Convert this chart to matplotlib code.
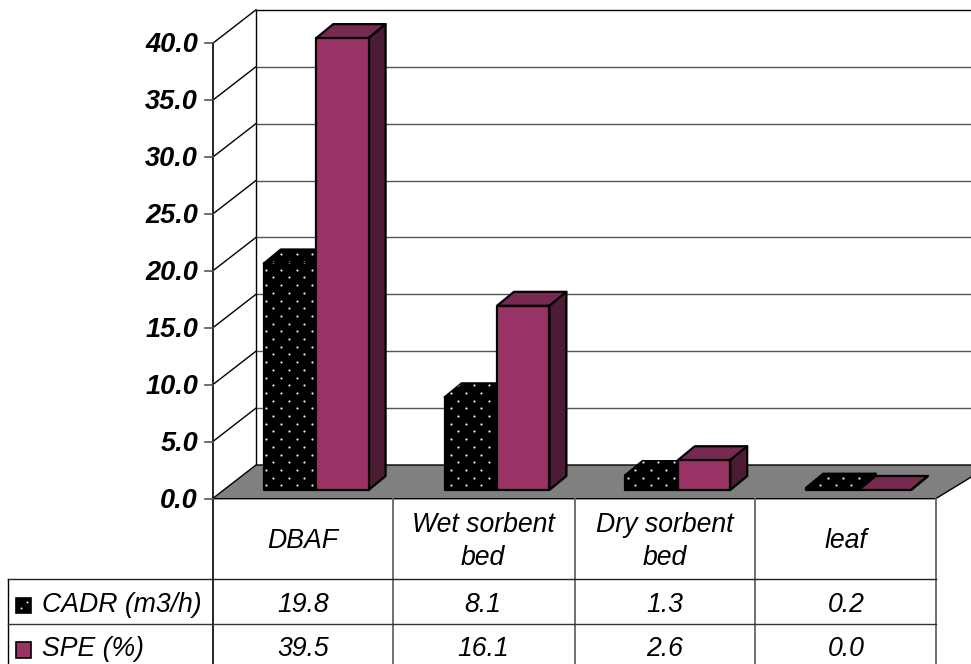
import numpy as np
import matplotlib
matplotlib.use("Agg")
import matplotlib.pyplot as plt
from matplotlib.patches import Polygon

categories = ["DBAF", "Wet sorbent\nbed", "Dry sorbent\nbed", "leaf"]
series_names = ["CADR (m3/h)", "SPE (%)"]
cadr = [19.8, 8.1, 1.3, 0.2]
spe = [39.5, 16.1, 2.6, 0.0]
tick_values = [0, 5, 10, 15, 20, 25, 30, 35, 40]

FONT = "Liberation Sans"
W, H = 971, 664
fig = plt.figure(figsize=(W / 100, H / 100), dpi=100)
ax = fig.add_axes([0, 0, 1, 1])
ax.set_xlim(0, W)
ax.set_ylim(H, 0)
ax.axis("off")

# chart geometry
FX, FY0, UNIT = 212.5, 498.7, 11.38      # front axis
DX, DY = 43.5, 33.7                      # wall depth
FR = 935.7                               # front right of floor
BAR_Y0, BAR_UNIT = 490.0, 11.44
BAR_X0, GROUP_STEP, BAR_W = 263.8, 180.8, 52.4
BDX, BDY = 17.0, 14.0
C_FRONT, C_TOP, C_SIDE = "#993366", "#762A52", "#4C1B34"
GRID = "#555555"


def fy(v):
    return FY0 - v * UNIT


# walls and gridlines
ax.add_patch(Polygon([(FX, fy(0)), (FX + DX, fy(0) - DY), (W + 20, fy(0) - DY), (FR, fy(0))],
                     closed=True, fc="#808080", ec="black", lw=1.0, zorder=2))
for v in tick_values[1:]:
    top = v == tick_values[-1]
    ax.plot([FX + DX, W], [fy(v) - DY] * 2, color="black" if top else GRID,
            lw=1.0, zorder=1, solid_capstyle="butt")
    ax.plot([FX, FX + DX], [fy(v), fy(v) - DY], color="black", lw=1.0, zorder=1)
ax.plot([FX + DX] * 2, [fy(40) - DY, fy(0) - DY], color="black", lw=1.0, zorder=1)
ax.plot([FX] * 2, [fy(40), H], color="black", lw=1.2, zorder=3)
for v in tick_values:
    ax.plot([FX - 8, FX], [fy(v)] * 2, color=GRID, lw=1.2, zorder=3)
    ax.text(FX - 14.5, fy(v) + 2.0, f"{v:.1f}", ha="right", va="center", fontsize=19.5,
            family=FONT, weight="bold", style="italic", color="black", zorder=5)

# dot texture of the first series
rows = 485.3 - 7.7 * np.arange(0, 62)
dots = [(265.7 + (7.7 if j % 2 else 0) + 15.4 * k, y)
        for j, y in enumerate(rows) for k in range(0, 44)]
dots = np.array(dots)


def bar(x0, value, front, top, side, dotted, z):
    y0 = BAR_Y0
    y1 = BAR_Y0 - value * BAR_UNIT
    x1 = x0 + BAR_W
    faces = [
        ([(x0, y1), (x1, y1), (x1 + BDX, y1 - BDY), (x0 + BDX, y1 - BDY)], top),
        ([(x1, y0), (x1 + BDX, y0 - BDY), (x1 + BDX, y1 - BDY), (x1, y1)], side),
    ]
    if value > 0:
        faces.append(([(x0, y0), (x1, y0), (x1, y1), (x0, y1)], front))
    for pts, col in faces:
        p = Polygon(pts, closed=True, fc=col, ec="black", lw=1.6, joinstyle="round", zorder=z)
        ax.add_patch(p)
        if dotted:
            s = ax.scatter(dots[:, 0], dots[:, 1], s=2.6, c="#e4e4e4", linewidths=0, zorder=z)
            s.set_clip_path(p)


for i in range(len(categories)):
    x = BAR_X0 + i * GROUP_STEP
    bar(x, cadr[i], "black", "black", "black", True, 10 + i)
    bar(x + BAR_W, spe[i], C_FRONT, C_TOP, C_SIDE, False, 10 + i)

# data table
col_x = [FX, 392.5, 575, 755, FR]
row_y = [fy(0), 579.3, 624.3]
LEFT = 8
for x in col_x[1:]:
    ax.plot([x, x], [fy(0), H], color="#666666", lw=1.3, zorder=3)
ax.plot([LEFT, LEFT], [row_y[1], H], color="black", lw=1.0, zorder=3)
ax.plot([LEFT, FR], [row_y[1]] * 2, color="#222222", lw=1.0, zorder=3)
ax.plot([LEFT, FR], [row_y[2]] * 2, color="#333333", lw=1.0, zorder=3)

tkw = dict(family=FONT, style="italic", fontsize=19.2, color="black", zorder=5, va="center")
centers = [303, 483, 664.5, 846]
for cx, name in zip(centers, categories):
    ax.text(cx, 541.5, name, ha="center", linespacing=1.38, **tkw)
for cx, a, b in zip(centers, cadr, spe):
    ax.text(cx, 605.5, f"{a:.1f}", ha="center", **tkw)
    ax.text(cx, 648.5, f"{b:.1f}", ha="center", **tkw)

for name, ty, key, col in zip(series_names, [605.5, 648.5], [605.5, 650], ["black", C_FRONT]):
    ax.text(41.5, ty, name, ha="left", **tkw)
    ksz = 15.5
    ax.add_patch(Polygon([(15.5, key - ksz / 2), (15.5 + ksz, key - ksz / 2),
                          (15.5 + ksz, key + ksz / 2), (15.5, key + ksz / 2)],
                         closed=True, fc=col, ec="black", lw=1.2, zorder=4))
# white specks of the CADR legend key
ax.scatter([20.5, 27], [607.5, 601.5], s=2.2, c="#e4e4e4", linewidths=0, zorder=5)

fig.savefig("out.png", dpi=100)
